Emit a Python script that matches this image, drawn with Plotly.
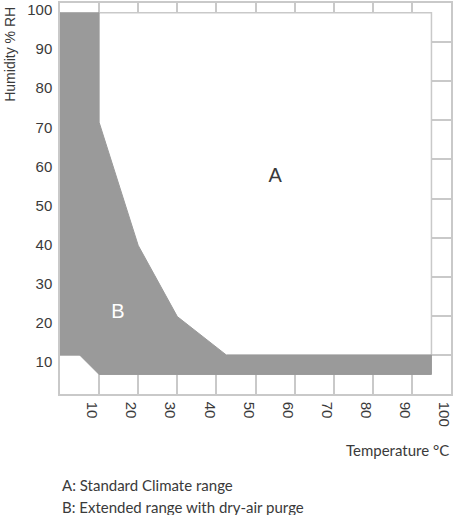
import plotly.graph_objects as go

# region B: extended range with dry-air purge (temperature degC, humidity %RH)
b_temp = [0, 10, 10, 20, 30, 36, 42.5, 95, 95, 10, 5, 0, 0]
b_hum = [97.5, 97.5, 69.5, 38, 19.8, 15, 10, 10, 5, 5, 10, 10, 97.5]

# region A: standard climate range
a_temp = [10, 95, 95, 42.5, 36, 30, 20, 10, 10]
a_hum = [97.5, 97.5, 10, 10, 15, 19.8, 38, 69.5, 97.5]

# outer edge of region A (top and right side)
edge_temp = [10, 95, 95]
edge_hum = [97.5, 97.5, 10]

x_ticks = [10, 20, 30, 40, 50, 60, 70, 80, 90, 100]
y_ticks = [10, 20, 30, 40, 50, 60, 70, 80, 90, 100]

grid_col = "#c9c9c9"
text_col = "#3a3a3a"

fig = go.Figure()

fig.add_trace(go.Scatter(x=a_temp, y=a_hum, fill="toself", fillcolor="white",
                         mode="lines", line=dict(width=0), hoverinfo="skip"))
fig.add_trace(go.Scatter(x=edge_temp, y=edge_hum, mode="lines",
                         line=dict(color=grid_col, width=1.5), hoverinfo="skip"))
fig.add_trace(go.Scatter(x=b_temp, y=b_hum, fill="toself", fillcolor="#9a9a9a",
                         mode="lines", line=dict(color="#9a9a9a", width=1),
                         hoverinfo="skip"))

# region letters
fig.add_trace(go.Scatter(x=[55, 14.8], y=[55.6, 20.8], mode="text", text=["A", "B"],
                         textfont=dict(size=20, color=[text_col, "white"],
                                       family="Liberation Sans"),
                         hoverinfo="skip"))

axis_style = dict(range=[0, 100], automargin=False,
                  showgrid=True, gridcolor=grid_col, gridwidth=1.5,
                  showline=True, linecolor=grid_col, linewidth=1.5, mirror=True,
                  zeroline=False, ticks="", ticklabelstandoff=3,
                  ticklabeloverflow="allow",
                  tickfont=dict(size=15, color=text_col))

note_font = dict(size=15, family="Lato", color=text_col)

fig.update_layout(
    width=453, height=515,
    margin=dict(l=60, r=2, t=3, b=121),
    plot_bgcolor="white", paper_bgcolor="white",
    showlegend=False,
    font=dict(family="Liberation Sans", color=text_col),
    xaxis=dict(tickvals=x_ticks, tickangle=90, ticklabelshift=-7, **axis_style),
    yaxis=dict(tickvals=y_ticks, ticklabelshift=7, **axis_style),
    annotations=[
        dict(text="Humidity % RH", xref="paper", yref="paper", x=-0.128, y=0.87,
             xanchor="center", yanchor="middle", textangle=-90, showarrow=False,
             font=dict(size=14, family="Liberation Sans", color=text_col)),
        dict(text="Temperature °C", xref="paper", yref="paper", x=1.0, y=-0.142,
             xanchor="right", yanchor="middle", showarrow=False, font=note_font),
        dict(text="A: Standard Climate range", xref="paper", yref="paper", x=0, y=-0.234,
             xanchor="left", yanchor="middle", showarrow=False, font=note_font),
        dict(text="B: Extended range with dry-air purge", xref="paper", yref="paper",
             x=0, y=-0.288, xanchor="left", yanchor="middle", showarrow=False,
             font=note_font),
    ],
)

# page body margin would push the figure out of the window
fig.write_html("out.html", config={"displayModeBar": False},
               post_script="document.body.style.margin = '0';")
